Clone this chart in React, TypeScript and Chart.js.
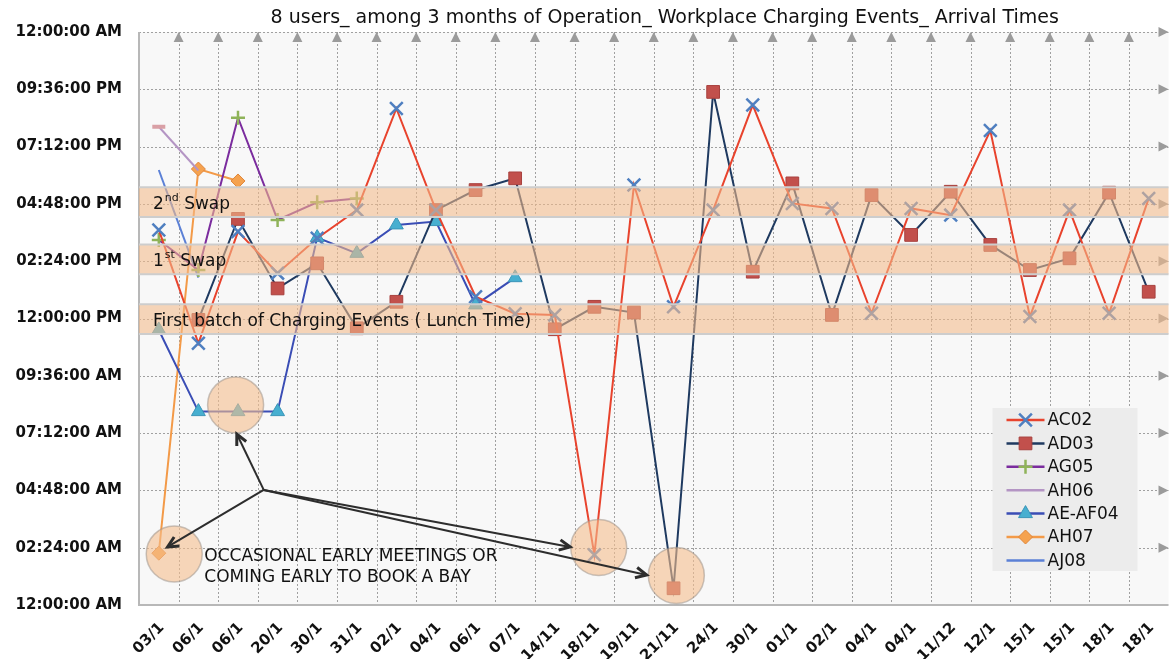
import React, { useEffect, useRef } from "react";
import { Chart, registerables } from "chart.js";
import { drawPoint } from "chart.js/helpers";

Chart.register(...registerables);

const FONT = '"DejaVu Sans", "Noto Sans", sans-serif';

const TITLE = "8 users_ among 3 months of Operation_ Workplace Charging Events_ Arrival Times";

const CATEGORIES = [
  "03/1", "06/1", "06/1", "20/1", "30/1", "31/1", "02/1", "04/1", "06/1", "07/1",
  "14/11", "18/11", "19/11", "21/11", "24/1", "30/1", "01/1", "02/1", "04/1", "04/1",
  "11/12", "12/1", "15/1", "15/1", "18/1", "18/1",
];

// Arrival time in decimal hours after midnight
const AC02 = [15.71, 10.96, 15.64, 13.9, 15.36, 16.54, 20.8, 16.54, 12.91, 12.2, 12.15, 2.1, 17.59, 12.49, 16.54, 20.94, 16.82, 16.61, 12.22, 16.61, 16.33, 19.87, 12.08, 16.54, 12.22, 17.03];
const AD03 = [null, 11.94, 16.17, 13.26, 14.31, 11.59, 12.7, 16.54, 17.38, 17.87, 11.55, 12.49, 12.25, 0.7, 21.49, 13.96, 17.66, 12.15, 17.17, 15.5, 17.31, 15.08, 14.03, 14.52, 17.27, 13.12];
const AG05 = [15.29, 14.03, 20.41, 16.13, 16.87, 17.03];
const AH06 = [20.03, 18.2];
const AE_AF04 = [11.52, 8.1, 8.1, 8.1, 15.39, 14.73, 15.92, 16.06, 12.57, 13.71];
const AH07 = [2.17, 18.26, 17.76];
const AJ08 = [18.22, 13.71];

const SERIES_NAMES = ["AC02", "AD03", "AG05", "AH06", "AE-AF04", "AH07", "AJ08"];

const Y_TICK_VALUES = [0, 2.4, 4.8, 7.2, 9.6, 12, 14.4, 16.8, 19.2, 21.6, 24];
const Y_TICK_LABELS = [
  "12:00:00 AM", "02:24:00 AM", "04:48:00 AM", "07:12:00 AM", "09:36:00 AM",
  "12:00:00 PM", "02:24:00 PM", "04:48:00 PM", "07:12:00 PM", "09:36:00 PM", "12:00:00 AM",
];

// Highlighted time windows (hours)
const BAND_FROM = [16.25, 13.85, 11.35];
const BAND_TO = [17.5, 15.1, 12.6];
const BAND_MAIN = ["2", "1", "First batch of Charging Events ( Lunch Time)"];
const BAND_SUP = ["nd", "st", ""];
const BAND_REST = [" Swap", " Swap", ""];

// Early-arrival highlight circles (category index, hour)
const CIRCLE_X = [0.39, 1.94, 11.11, 13.07];
const CIRCLE_Y = [2.14, 8.38, 2.41, 1.24];
const ARROW_HUB = [2.65, 4.82];
const ARROW_TO_X = [0.22, 1.97, 10.39, 12.32];
const ARROW_TO_Y = [2.43, 7.16, 2.43, 1.26];
const NOTE_LINES = ["OCCASIONAL EARLY MEETINGS OR", "COMING EARLY TO BOOK A BAY"];
const NOTE_AT = [1.15, 2.01];

const decoPlugin = {
  id: "deco",
  beforeDraw(chart: any) {
    const { ctx, chartArea: a } = chart;
    ctx.save();
    ctx.fillStyle = "#ffffff";
    ctx.fillRect(0, 0, chart.width, chart.height);
    ctx.fillStyle = "#f8f8f8";
    ctx.fillRect(a.left, a.top, a.right - a.left, a.bottom - a.top);
    ctx.restore();
  },
  beforeDatasetsDraw(chart: any) {
    const { ctx, chartArea: a, scales } = chart;
    const x = scales.x;
    const y = scales.y;
    ctx.save();
    ctx.strokeStyle = "#a0a0a0";
    ctx.lineWidth = 1;
    ctx.setLineDash([2, 2]);
    for (let i = 1; i < CATEGORIES.length; i++) {
      const px = Math.round(x.getPixelForValue(i - 0.5)) + 0.5;
      ctx.beginPath();
      ctx.moveTo(px, a.top);
      ctx.lineTo(px, a.bottom);
      ctx.stroke();
    }
    for (let k = 1; k < Y_TICK_VALUES.length; k++) {
      const py = Math.round(y.getPixelForValue(Y_TICK_VALUES[k])) + 0.5;
      ctx.beginPath();
      ctx.moveTo(a.left, py);
      ctx.lineTo(a.right, py);
      ctx.stroke();
    }
    ctx.setLineDash([]);
    ctx.strokeStyle = "#b8b8b8";
    ctx.lineWidth = 2;
    ctx.beginPath();
    ctx.moveTo(a.left, a.top);
    ctx.lineTo(a.left, a.bottom);
    ctx.lineTo(a.right, a.bottom);
    ctx.stroke();
    ctx.fillStyle = "#9b9b9b";
    for (let i = 1; i < CATEGORIES.length; i++) {
      const px = x.getPixelForValue(i - 0.5);
      ctx.beginPath();
      ctx.moveTo(px, a.top);
      ctx.lineTo(px + 5, a.top + 10);
      ctx.lineTo(px - 5, a.top + 10);
      ctx.closePath();
      ctx.fill();
    }
    for (let k = 1; k < Y_TICK_VALUES.length; k++) {
      const py = y.getPixelForValue(Y_TICK_VALUES[k]);
      ctx.beginPath();
      ctx.moveTo(a.right, py);
      ctx.lineTo(a.right - 10, py - 5);
      ctx.lineTo(a.right - 10, py + 5);
      ctx.closePath();
      ctx.fill();
    }
    ctx.restore();
  },
  afterDatasetsDraw(chart: any) {
    const { ctx, chartArea: a, scales } = chart;
    const x = scales.x;
    const y = scales.y;
    ctx.save();
    // bands
    for (let k = 0; k < BAND_FROM.length; k++) {
      const yt = y.getPixelForValue(BAND_TO[k]);
      const yb = y.getPixelForValue(BAND_FROM[k]);
      ctx.fillStyle = "rgba(243,186,138,0.58)";
      ctx.fillRect(a.left, yt, a.right - a.left, yb - yt);
      ctx.strokeStyle = "#cdcdcd";
      ctx.lineWidth = 2;
      ctx.beginPath();
      ctx.moveTo(a.left, yt);
      ctx.lineTo(a.right, yt);
      ctx.moveTo(a.left, yb);
      ctx.lineTo(a.right, yb);
      ctx.stroke();
    }
    // circles
    for (let k = 0; k < CIRCLE_X.length; k++) {
      const cx = x.getPixelForValue(CIRCLE_X[k]);
      const cy = y.getPixelForValue(CIRCLE_Y[k]);
      ctx.beginPath();
      ctx.arc(cx, cy, 28, 0, Math.PI * 2);
      ctx.fillStyle = "rgba(245,190,142,0.6)";
      ctx.fill();
      ctx.strokeStyle = "rgba(160,150,140,0.55)";
      ctx.lineWidth = 1.5;
      ctx.stroke();
    }
    // band labels
    ctx.fillStyle = "#111";
    ctx.textBaseline = "middle";
    ctx.textAlign = "left";
    for (let k = 0; k < BAND_FROM.length; k++) {
      const cy = (y.getPixelForValue(BAND_TO[k]) + y.getPixelForValue(BAND_FROM[k])) / 2 + 2;
      let tx = a.left + 14;
      ctx.font = `17px ${FONT}`;
      ctx.fillText(BAND_MAIN[k], tx, cy);
      tx += ctx.measureText(BAND_MAIN[k]).width;
      if (BAND_SUP[k]) {
        ctx.font = `11px ${FONT}`;
        ctx.fillText(BAND_SUP[k], tx + 1, cy - 6);
        tx += ctx.measureText(BAND_SUP[k]).width + 1;
        ctx.font = `17px ${FONT}`;
        ctx.fillText(BAND_REST[k], tx, cy);
      }
    }
    // arrows
    const hx = x.getPixelForValue(ARROW_HUB[0]);
    const hy = y.getPixelForValue(ARROW_HUB[1]);
    ctx.strokeStyle = "#2d2d2d";
    ctx.lineWidth = 2;
    for (let k = 0; k < ARROW_TO_X.length; k++) {
      const tx = x.getPixelForValue(ARROW_TO_X[k]);
      const ty = y.getPixelForValue(ARROW_TO_Y[k]);
      ctx.beginPath();
      ctx.moveTo(hx, hy);
      ctx.lineTo(tx, ty);
      ctx.stroke();
      const ang = Math.atan2(ty - hy, tx - hx);
      const L = 12;
      ctx.beginPath();
      ctx.moveTo(tx - L * Math.cos(ang - 0.45), ty - L * Math.sin(ang - 0.45));
      ctx.lineTo(tx, ty);
      ctx.lineTo(tx - L * Math.cos(ang + 0.45), ty - L * Math.sin(ang + 0.45));
      ctx.lineWidth = 3;
      ctx.stroke();
      ctx.lineWidth = 2;
    }
    // note
    ctx.fillStyle = "#111";
    ctx.font = `17px ${FONT}`;
    const nx = x.getPixelForValue(NOTE_AT[0]);
    const ny = y.getPixelForValue(NOTE_AT[1]);
    NOTE_LINES.forEach((t, i) => ctx.fillText(t, nx, ny + i * 21));
    // legend
    const lw = 145;
    const lh = 163;
    const lx = a.right - 176;
    const ly = a.bottom - 197;
    ctx.fillStyle = "#ececec";
    ctx.fillRect(lx, ly, lw, lh);
    chart.data.datasets.forEach((ds: any, i: number) => {
      const cy = ly + 12 + i * 23.4;
      ctx.strokeStyle = ds.borderColor;
      ctx.lineWidth = 2.5;
      ctx.beginPath();
      ctx.moveTo(lx + 14, cy);
      ctx.lineTo(lx + 52, cy);
      ctx.stroke();
      if (ds.legendMarker) {
        ctx.fillStyle = ds.pointBackgroundColor;
        ctx.strokeStyle = ds.pointBorderColor;
        ctx.lineWidth = ds.pointBorderWidth;
        drawPoint(ctx, { pointStyle: ds.pointStyle, radius: ds.legendRadius, borderWidth: ds.pointBorderWidth, rotation: 0 }, lx + 33, cy);
      }
      ctx.fillStyle = "#111";
      ctx.font = `17px ${FONT}`;
      ctx.textAlign = "left";
      ctx.textBaseline = "middle";
      ctx.fillText(ds.label, lx + 55, cy + 1);
    });
    // title
    ctx.font = `19px ${FONT}`;
    ctx.textAlign = "center";
    ctx.fillStyle = "#111";
    ctx.fillText(TITLE, (a.left + a.right) / 2 + 11, 18);
    ctx.restore();
  },
};

export default function App() {
  const ref = useRef<HTMLCanvasElement | null>(null);
  useEffect(() => {
    if (!ref.current) return;
    const base = { borderWidth: 2, tension: 0, spanGaps: false, pointHoverRadius: 0 };
    const chart = new Chart(ref.current, {
      type: "line",
      data: {
        labels: CATEGORIES,
        datasets: [
          { ...base, label: SERIES_NAMES[0], data: AC02, borderColor: "#e8432d", pointStyle: "crossRot", pointRadius: 9, legendRadius: 9, legendMarker: true, pointBorderColor: "#4f7fc0", pointBackgroundColor: "#4f7fc0", pointBorderWidth: 2.5 },
          { ...base, label: SERIES_NAMES[1], data: AD03, borderColor: "#1f3a60", pointStyle: "rect", pointRadius: 9, legendRadius: 9, legendMarker: true, pointBorderColor: "#a8413e", pointBackgroundColor: "#c2504c", pointBorderWidth: 1 },
          { ...base, label: SERIES_NAMES[2], data: AG05, borderColor: "#7b2c9e", pointStyle: "cross", pointRadius: 7, legendRadius: 7, legendMarker: true, pointBorderColor: "#8fb359", pointBackgroundColor: "#8fb359", pointBorderWidth: 2.5 },
          { ...base, label: SERIES_NAMES[3], data: AH06, borderColor: "#b495c4", pointStyle: "line", pointRadius: (c: any) => (c.dataIndex === 0 ? 6.5 : 0), legendMarker: false, pointBorderColor: "#d9a0a6", pointBackgroundColor: "#d9a0a6", pointBorderWidth: 4 },
          { ...base, label: SERIES_NAMES[4], data: AE_AF04, borderColor: "#3a4db5", pointStyle: "triangle", pointRadius: 8, legendRadius: 8, legendMarker: true, pointBorderColor: "#3a95b8", pointBackgroundColor: "#47afd0", pointBorderWidth: 1 },
          { ...base, label: SERIES_NAMES[5], data: AH07, borderColor: "#f39a48", pointStyle: "rectRot", pointRadius: 7, legendRadius: 7, legendMarker: true, pointBorderColor: "#e0863a", pointBackgroundColor: "#f5a24f", pointBorderWidth: 1 },
          { ...base, label: SERIES_NAMES[6], data: AJ08, borderColor: "#5b80d6", pointRadius: 0, legendMarker: false },
        ] as any,
      },
      options: {
        animation: false,
        responsive: false,
        devicePixelRatio: 1,
        layout: { padding: { left: 0, top: 32, right: 3, bottom: 0 } },
        plugins: { legend: { display: false }, title: { display: false }, tooltip: { enabled: false } },
        events: [],
        scales: {
          x: {
            type: "category",
            offset: true,
            grid: { display: false },
            border: { display: false },
            ticks: {
              autoSkip: false,
              minRotation: 45,
              maxRotation: 45,
              padding: 6,
              labelOffset: 3,
              color: "#111",
              font: { family: FONT, size: 15, weight: "bold" },
            },
            afterFit: (s: any) => { s.height = 54; },
          },
          y: {
            min: 0,
            max: 24,
            grid: { display: false },
            border: { display: false },
            afterBuildTicks: (s: any) => { s.ticks = Y_TICK_VALUES.map((v) => ({ value: v })); },
            ticks: {
              padding: 9,
              color: "#111",
              font: { family: FONT, size: 15, weight: "bold" },
              callback: (_v: any, i: number) => Y_TICK_LABELS[i],
            },
            afterFit: (s: any) => { s.width = 139; },
          },
        },
      } as any,
      plugins: [decoPlugin],
    });
    return () => chart.destroy();
  }, []);
  return (
    <div style={{ position: "absolute", left: 0, top: 0, width: 1172, height: 659, overflow: "hidden", background: "#fff" }}>
      <canvas ref={ref} width={1180} height={659} style={{ display: "block", width: 1180, height: 659 }} />
    </div>
  );
}
